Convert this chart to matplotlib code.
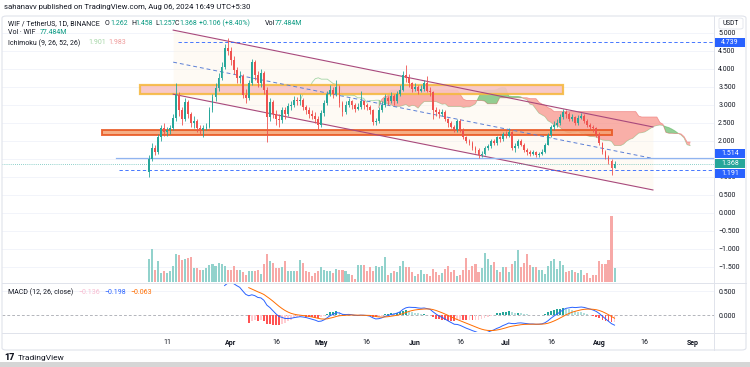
import numpy as np
import pandas as pd
import matplotlib
matplotlib.use("Agg")
import matplotlib.pyplot as plt
import matplotlib.transforms as mtransforms
from matplotlib.patches import Rectangle, FancyBboxPatch
from matplotlib.lines import Line2D

plt.rcParams['font.family'] = ['Roboto', 'DejaVu Sans']

# ---------------- data (daily candles, 5 Mar 2024 -> 6 Aug 2024) ----------------
first_open = 1.15
closes = [1.50, 1.80, 1.70, 2.10, 2.35, 2.25, 2.30, 2.35, 2.64, 3.28,
          2.86, 2.60, 3.08, 2.76, 2.50, 2.55, 2.35, 2.30, 2.35, 2.40,
          2.86, 3.22, 3.47, 3.75, 4.05, 4.58, 4.50, 4.25, 3.97, 3.75,
          3.80, 3.28, 3.20, 3.60, 4.20, 3.83, 3.60, 3.90, 3.42, 2.67,
          3.08, 2.76, 2.60, 2.58, 2.86, 2.75, 2.97, 3.00, 3.14, 3.10,
          3.14, 2.94, 2.86, 2.75, 2.70, 2.60, 2.45, 2.78, 3.05, 3.30,
          3.42, 3.30, 3.50, 3.05, 2.80, 3.00, 3.10, 3.00, 2.90, 2.95,
          3.10, 3.00, 2.95, 2.85, 2.53, 2.55, 2.85, 3.00, 3.20, 3.10,
          3.25, 3.10, 3.30, 3.42, 3.83, 3.75, 3.60, 3.45, 3.50, 3.40,
          3.45, 3.60, 3.40, 3.35, 2.86, 2.80, 2.75, 2.80, 2.60, 2.50,
          2.40, 2.30, 2.55, 2.30, 2.10, 2.00, 1.95, 1.80, 1.75, 1.60,
          1.65, 1.80, 1.85, 2.00, 1.95, 2.10, 2.05, 2.20, 2.15, 2.25,
          1.80, 1.85, 2.00, 1.90, 1.75, 1.70, 1.65, 1.70, 1.60, 1.65,
          1.70, 1.90, 2.17, 2.40, 2.45, 2.50, 2.67, 2.80, 2.75, 2.60,
          2.67, 2.50, 2.65, 2.70, 2.55, 2.45, 2.40, 2.35, 2.20, 1.94,
          1.70, 1.55, 1.45, 1.262, 1.368]
highs = [1.60, 1.95, 1.90, 2.20, 2.45, 2.50, 2.40, 2.45, 2.75, 3.60,
         3.35, 2.95, 3.20, 3.15, 2.80, 2.70, 2.60, 2.45, 2.45, 2.50,
         2.95, 3.30, 3.60, 3.90, 4.20, 4.70, 4.86, 4.60, 4.35, 4.05,
         3.95, 3.85, 3.45, 3.70, 4.28, 4.25, 3.95, 4.00, 3.95, 3.50,
         3.20, 3.15, 2.85, 2.75, 2.95, 2.95, 3.05, 3.12, 3.25, 3.22,
         3.30, 3.20, 3.00, 2.95, 2.85, 2.80, 2.70, 2.85, 3.15, 3.40,
         3.55, 3.50, 3.69, 3.55, 3.10, 3.10, 3.20, 3.15, 3.05, 3.05,
         3.40, 3.15, 3.05, 3.00, 2.90, 2.65, 2.95, 3.10, 3.30, 3.25,
         3.35, 3.30, 3.40, 3.55, 3.95, 4.10, 3.85, 3.65, 3.60, 3.55,
         3.55, 3.70, 3.80, 3.50, 3.40, 2.95, 2.90, 2.90, 2.85, 2.65,
         2.55, 2.45, 2.60, 2.60, 2.35, 2.15, 2.05, 2.00, 1.85, 1.80,
         1.72, 1.85, 1.92, 2.05, 2.05, 2.15, 2.15, 2.25, 2.28, 2.36,
         2.28, 1.95, 2.05, 2.05, 1.95, 1.80, 1.75, 1.75, 1.72, 1.70,
         1.78, 1.95, 2.22, 2.45, 2.55, 2.60, 2.75, 2.89, 2.85, 2.80,
         2.75, 2.70, 2.72, 2.78, 2.75, 2.60, 2.50, 2.45, 2.40, 2.25,
         1.98, 1.75, 1.60, 1.50, 1.458]
lows = [1.00, 1.45, 1.60, 1.65, 2.00, 2.15, 2.15, 2.20, 2.30, 2.55,
        2.70, 2.45, 2.55, 2.65, 2.40, 2.35, 2.25, 2.20, 2.10, 2.30,
        2.35, 2.80, 3.10, 3.40, 3.70, 4.00, 4.40, 4.10, 3.85, 3.60,
        3.60, 3.20, 3.05, 3.15, 3.55, 3.70, 3.50, 3.50, 3.30, 1.97,
        2.55, 2.65, 2.45, 2.40, 2.50, 2.60, 2.70, 2.85, 2.95, 3.00,
        3.00, 2.85, 2.75, 2.65, 2.60, 2.50, 2.30, 2.40, 2.70, 3.00,
        3.25, 3.20, 3.25, 2.95, 2.70, 2.75, 2.95, 2.90, 2.80, 2.85,
        2.90, 2.90, 2.85, 2.75, 2.45, 2.45, 2.50, 2.80, 2.95, 3.00,
        3.05, 3.00, 3.05, 3.25, 3.40, 3.65, 3.50, 3.35, 3.40, 3.30,
        3.35, 3.40, 3.35, 3.25, 2.60, 2.70, 2.65, 2.70, 2.55, 2.40,
        2.35, 2.25, 2.25, 2.25, 2.05, 1.95, 1.88, 1.75, 1.68, 1.53,
        1.55, 1.60, 1.75, 1.80, 1.88, 1.90, 1.98, 2.00, 2.08, 2.10,
        1.75, 1.70, 1.80, 1.85, 1.70, 1.62, 1.58, 1.60, 1.55, 1.55,
        1.60, 1.68, 1.88, 2.10, 2.30, 2.40, 2.45, 2.60, 2.65, 2.55,
        2.55, 2.45, 2.45, 2.60, 2.50, 2.40, 2.30, 2.25, 2.10, 1.90,
        1.65, 1.50, 1.35, 1.05, 1.257]
volumes = [127, 183, 68, 117, 50, 62, 50, 59, 86, 156,
           150, 123, 128, 132, 141, 77, 77, 64, 64, 80,
           95, 99, 86, 105, 99, 86, 68, 68, 86, 68,
           64, 55, 37, 62, 62, 59, 68, 44, 99, 156,
           114, 105, 77, 77, 85, 114, 62, 59, 59, 59,
           123, 105, 59, 55, 31, 50, 59, 81, 68, 62,
           62, 50, 73, 68, 64, 59, 44, 37, 18, 95,
           95, 95, 59, 81, 59, 86, 81, 86, 136, 40,
           50, 59, 55, 86, 117, 83, 83, 55, 31, 44,
           64, 44, 44, 31, 73, 55, 40, 50, 73, 86,
           55, 68, 31, 37, 68, 132, 68, 86, 101, 55,
           77, 160, 128, 95, 110, 68, 53, 81, 81, 55,
           99, 114, 178, 83, 105, 156, 92, 81, 83, 68,
           64, 44, 86, 114, 128, 73, 114, 95, 55, 62,
           64, 55, 50, 64, 37, 50, 22, 37, 40, 117,
           99, 99, 123, 368, 77.484]
opens = [first_open] + closes[:-1]

tick_days = [6, 27, 42, 57, 72, 88, 103, 118, 133, 149, 164, 180]
tick_labels = ['11', 'Apr', '16', 'May', '16', 'Jun', '16', 'Jul', '16', 'Aug', '16', 'Sep']
price_ticks = [-1.5, -1.0, -0.5, 0.0, 0.5, 1.0, 1.5, 2.0, 2.5, 3.0, 3.5, 4.0, 4.5, 5.0]
hidden_price_ticks = [1.5]          # covered by the price-scale boxes in the original
macd_ticks = [0.0, 0.5]

# user drawings
channel_days = [8.0, 166.7]
channel_upper = [5.08, 2.39]
channel_mid = [4.19, 1.515]
channel_lower = [3.30, 0.64]
zone_pink = (-3.0, 137.0, 3.31, 3.56)      # day0, day1, price0, price1
zone_orange = (-15.5, 153.0, 2.17, 2.30)
level_top = (4.739, 9.6)                    # price, start day
level_solid = (1.514, -11.0)
level_low = (1.191, -10.0)
last_price = 1.368

# ---------------- layout ----------------
W, H = 750, 367
fig = plt.figure(figsize=(W / 100, H / 100), dpi=100)
fig.patch.set_facecolor('white')


def fx(px):
    return px / W


def fy(py):
    return 1 - py / H


L, R = 2, 714
MT, MB = 17, 282
PT, PB = 283, 332
XMIN, XMAX = -48.63, 186.9
YMIN, YMAX = -1.9167, 5.444
VMAX = 1469
MMIN, MMAX = -0.354, 0.667

ax = fig.add_axes([fx(L), fy(MB), fx(R) - fx(L), fy(MT) - fy(MB)])
axv = fig.add_axes([fx(L), fy(MB), fx(R) - fx(L), fy(MT) - fy(MB)])
axm = fig.add_axes([fx(L), fy(PB), fx(R) - fx(L), fy(PT) - fy(PB)])
ax.set_zorder(1)
axv.set_zorder(2)
axv.patch.set_alpha(0)
axv.axis('off')

grid_c = '#f0f3fa'
txt_c = '#131722'
FS = 5.0

for a in (ax, axv, axm):
    a.set_xlim(XMIN, XMAX)
ax.set_ylim(YMIN, YMAX)
axv.set_ylim(0, VMAX)
axm.set_ylim(MMIN, MMAX)

for a in (ax, axm):
    for s in a.spines.values():
        s.set_visible(False)
    a.yaxis.tick_right()
    a.tick_params(axis='y', length=0, pad=3, labelsize=5, labelcolor=txt_c)
    a.set_xticks(tick_days)

ax.grid(True, axis='y', color=grid_c, lw=0.6)
ax.set_axisbelow(True)
ax.tick_params(axis='x', length=0, labelbottom=False)
ax.set_yticks(price_ticks)
ax.set_yticklabels(['' if v in hidden_price_ticks else f"{v:.3f}".replace('-', '\u2212')
                    for v in price_ticks])
axm.set_yticks(macd_ticks)
axm.set_yticklabels([f"{v:.3f}" for v in macd_ticks])
axm.set_xticklabels(tick_labels)
axm.tick_params(axis='x', length=0, pad=5, labelsize=5, labelcolor=txt_c)
for lab in axm.get_xticklabels():
    if not lab.get_text().isdigit():
        lab.set_fontweight('bold')

# ---------------- candles ----------------
x = np.arange(len(closes))
o = np.array(opens)
c = np.array(closes)
hi = np.array(highs)
lo = np.array(lows)
up = c >= o
col = np.where(up, '#26a69a', '#ef5350')
ax.vlines(x, lo, hi, colors=col, lw=0.6, zorder=6)
ax.bar(x, np.maximum(np.abs(c - o), 0.015), bottom=np.minimum(o, c), width=0.62,
       color=col, lw=0, zorder=7)

# volume
vcol = np.where(up, '#92d2cc', '#f7a9a7')
axv.bar(x, volumes, width=0.68, color=vcol, lw=0)

# ---------------- Ichimoku cloud (computed) ----------------
hs, ls = pd.Series(highs), pd.Series(lows)
tenkan = (hs.rolling(9).max() + ls.rolling(9).min()) / 2
kijun = (hs.rolling(26).max() + ls.rolling(26).min()) / 2
spanA = ((tenkan + kijun) / 2).values
spanB = ((hs.rolling(52).max() + ls.rolling(52).min()) / 2).values
xs = x + 25
okA = ~np.isnan(spanA)
okB = ~np.isnan(spanB)
ax.plot(xs[okA], spanA[okA], color='#a5d6a7', lw=0.6, zorder=3)
ax.plot(xs[okB], spanB[okB], color='#ef9a9a', lw=0.6, zorder=3)
both = okA & okB
ax.fill_between(xs[both], spanA[both], spanB[both], where=spanA[both] >= spanB[both],
                interpolate=True, color='#4caf50', alpha=0.6, lw=0, zorder=3)
ax.fill_between(xs[both], spanA[both], spanB[both], where=spanA[both] < spanB[both],
                interpolate=True, color='#f7877f', alpha=0.65, lw=0, zorder=3)

# ---------------- drawings ----------------
ax.fill_between(channel_days, channel_lower, channel_upper, color='#fdf1dc', alpha=0.3,
                lw=0, zorder=2)
ax.add_patch(Rectangle((zone_pink[0], zone_pink[2]), zone_pink[1] - zone_pink[0],
                       zone_pink[3] - zone_pink[2], fc='#f8c4c4', ec='#f5b942', lw=1.6,
                       alpha=0.9, zorder=4))
ax.add_patch(Rectangle((zone_orange[0], zone_orange[2]), zone_orange[1] - zone_orange[0],
                       zone_orange[3] - zone_orange[2], fc='#f4a070', ec='#e8541e', lw=1.4,
                       alpha=0.85, zorder=4))
chan_c = '#a8497c'
ax.plot(channel_days, channel_upper, color=chan_c, lw=0.8, zorder=5)
ax.plot(channel_days, channel_lower, color=chan_c, lw=0.8, zorder=5)
ax.plot(channel_days, channel_mid, color='#5b7fd6', lw=0.7, ls=(0, (4, 3)), zorder=5)

ax.plot([level_top[1], XMAX], [level_top[0]] * 2, color='#2962ff', lw=0.6, ls=(0, (4, 3)), zorder=5)
ax.plot([level_solid[1], XMAX], [level_solid[0]] * 2, color='#90b4f0', lw=0.9, zorder=5)
ax.plot([level_low[1], XMAX], [level_low[0]] * 2, color='#2962ff', lw=0.6, ls=(0, (4, 3)), zorder=5)
ax.axhline(last_price, color='#26a69a', lw=0.5, ls=(0, (1, 2)), zorder=5)

# ---------------- MACD (computed) ----------------

def tv_ema(arr, n):
    arr = np.asarray(arr, float)
    out = np.full(len(arr), np.nan)
    s = np.where(~np.isnan(arr))[0][0]
    out[s + n - 1] = arr[s:s + n].mean()
    k = 2 / (n + 1)
    for i in range(s + n, len(arr)):
        out[i] = k * arr[i] + (1 - k) * out[i - 1]
    return out


macd = tv_ema(closes, 12) - tv_ema(closes, 26)
signal = tv_ema(macd, 9)
hist = macd - signal
hcol = []
for i in range(len(hist)):
    prev = hist[i - 1] if i > 0 else np.nan
    if hist[i] >= 0:
        hcol.append('#26a69a' if (np.isnan(prev) or hist[i] > prev) else '#b2dfdb')
    else:
        hcol.append('#ffcdd2' if (not np.isnan(prev) and hist[i] > prev) else '#ff5252')
okh = ~np.isnan(hist)
axm.bar(x[okh], hist[okh], width=0.62, color=np.array(hcol)[okh], lw=0, zorder=3)
axm.plot(x, macd, color='#2962ff', lw=0.7, zorder=4)
axm.plot(x, signal, color='#ff6d00', lw=0.7, zorder=4)
axm.axhline(0, color='#9598a1', lw=0.5, ls=(0, (4, 3)), zorder=2)
axm.axhline(0.5, color=grid_c, lw=0.6, zorder=1)

# ---------------- price-scale labels ----------------
pxu = (MB - MT) / (YMAX - YMIN)
trans = mtransforms.blended_transform_factory(fig.transFigure, ax.transData)
for val, colr, shift in [(level_top[0], '#2962ff', 0), (level_solid[0], '#2962ff', 4.5),
                         (last_price, '#26a69a', 0.5), (level_low[0], '#2962ff', -3)]:
    yc = val + shift / pxu
    h = 9.0 / pxu
    fig.add_artist(Rectangle((fx(715), yc - h / 2), fx(745) - fx(715), h, transform=trans,
                             fc=colr, ec='none', zorder=20))
    fig.add_artist(plt.Text(fx(730), yc, f"{val:.3f}", transform=trans, ha='center',
                            va='center', color='white', fontsize=5, zorder=21))

# ---------------- frame & separators ----------------
fig.add_artist(FancyBboxPatch((fx(2), fy(350)), fx(746) - fx(2), fy(16) - fy(350),
                              boxstyle='round,pad=0,rounding_size=0.006', fc='none',
                              ec='#e0e3eb', lw=0.8, transform=fig.transFigure, zorder=15))
for xa, ya, xb, yb in [(714, 16, 714, 350), (2, 282.5, 746, 282.5), (2, 332.5, 746, 332.5)]:
    fig.add_artist(Line2D([fx(xa), fx(xb)], [fy(ya), fy(yb)], color='#e0e3eb', lw=0.7,
                          transform=fig.transFigure, zorder=15))
fig.add_artist(FancyBboxPatch((fx(719), fy(29)), fx(743) - fx(719), fy(18) - fy(29),
                              boxstyle='round,pad=0,rounding_size=0.004', fc='white',
                              ec='#e0e3eb', lw=0.6, transform=fig.transFigure, zorder=22))
fig.text(fx(731), fy(23.5), 'USDT', ha='center', va='center', fontsize=4.8, color=txt_c, zorder=23)

# bottom grey band
fig.add_artist(Rectangle((0, 0), 1, fy(362), transform=fig.transFigure, fc='#d6d6d6',
                         ec='none', zorder=1))

# ---------------- texts ----------------
fig.text(fx(4), fy(7.5), 'sahanavv published on TradingView.com, Aug 06, 2024 16:49 UTC+5:30',
         fontsize=5.6, color=txt_c, va='center')
teal = '#089981'
y1 = fy(23.5)
for xp, s, cc in [(8, 'WIF / TetherUS, 1D, BINANCE', txt_c), (105, 'O', txt_c), (110, '1.262', teal),
                  (131, 'H', txt_c), (135.5, '1.458', teal), (155, 'L', txt_c), (158.2, '1.257', teal),
                  (175, 'C', txt_c), (179.5, '1.368', teal), (199, '+0.106 (+8.40%)', teal),
                  (265, 'Vol', txt_c), (275, '77.484M', teal)]:
    fig.text(fx(xp), y1, s, fontsize=FS, color=cc, va='center', zorder=25)
fig.text(fx(8), fy(33), 'Vol \u00b7 WIF', fontsize=FS, color=txt_c, va='center', zorder=25)
fig.text(fx(40), fy(33), '77.484M', fontsize=FS, color=teal, va='center', zorder=25)
fig.text(fx(8), fy(43), 'Ichimoku (9, 26, 52, 26)', fontsize=FS, color=txt_c, va='center', zorder=25)
fig.text(fx(88), fy(43), '1.901', fontsize=FS, color='#a5d6a7', va='center', zorder=25)
fig.text(fx(108), fy(43), '1.983', fontsize=FS, color='#ef9a9a', va='center', zorder=25)

ym = fy(292)
fig.text(fx(8), ym, 'MACD (12, 26, close)', fontsize=FS, color=txt_c, va='center', zorder=25)
fig.text(fx(78), ym, '\u22120.136', fontsize=FS, color='#f8bbd0', va='center', zorder=25)
fig.text(fx(104), ym, '\u22120.198', fontsize=FS, color='#2962ff', va='center', zorder=25)
fig.text(fx(130), ym, '\u22120.063', fontsize=FS, color='#ff6d00', va='center', zorder=25)

fig.text(fx(4), fy(358), '17', fontsize=6.5, fontweight='black', color=txt_c, va='center')
fig.text(fx(18), fy(358), 'TradingView', fontsize=6, color=txt_c, va='center')

fig.savefig('out.png', dpi=100)
